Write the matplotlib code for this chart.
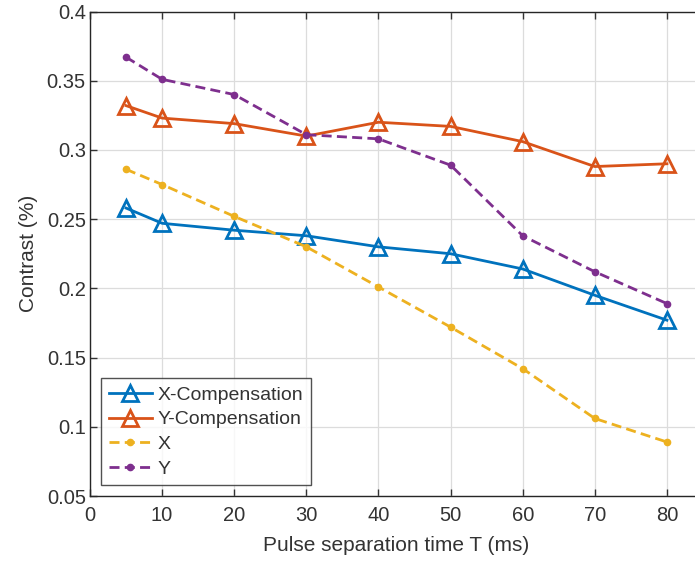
import matplotlib
matplotlib.use("Agg")
import matplotlib.pyplot as plt

T = [5, 10, 20, 30, 40, 50, 60, 70, 80]
x_comp = [0.258, 0.247, 0.242, 0.238, 0.230, 0.225, 0.214, 0.195, 0.177]
y_comp = [0.332, 0.323, 0.319, 0.310, 0.320, 0.317, 0.306, 0.288, 0.290]
x_raw = [0.286, 0.275, 0.252, 0.230, 0.201, 0.172, 0.142, 0.106, 0.089]
y_raw = [0.367, 0.351, 0.340, 0.311, 0.308, 0.289, 0.238, 0.212, 0.189]

x_ticks = [0, 10, 20, 30, 40, 50, 60, 70, 80]
y_ticks = [0.05, 0.1, 0.15, 0.2, 0.25, 0.3, 0.35, 0.4]
y_tick_labels = ["0.05", "0.1", "0.15", "0.2", "0.25", "0.3", "0.35", "0.4"]

BLUE = "#0072BD"
ORANGE = "#D95319"
YELLOW = "#EDB120"
PURPLE = "#7E2F8E"
TXT = "#333333"

plt.rcParams["font.family"] = ["Liberation Sans", "DejaVu Sans"]

fig = plt.figure(figsize=(6.95, 5.63), dpi=100)
# right edge of the axes runs past the picture, as in the cropped original
ax = fig.add_axes([90 / 695, 1 - 496 / 563, 613 / 695, (496 - 11.5) / 563])

ax.plot(T, x_comp, "-^", color=BLUE, lw=2, ms=11, mfc="none", mew=2,
        label="X-Compensation")
ax.plot(T, y_comp, "-^", color=ORANGE, lw=2, ms=11, mfc="none", mew=2,
        label="Y-Compensation")
ax.plot(T, x_raw, "--o", color=YELLOW, lw=2, ms=4.5, dashes=(3.6, 1.9),
        label="X")
ax.plot(T, y_raw, "--o", color=PURPLE, lw=2, ms=4.5, dashes=(3.6, 1.9),
        label="Y")

ax.set_xlim(0, 85)
ax.set_ylim(0.05, 0.4)
ax.set_xticks(x_ticks)
ax.set_yticks(y_ticks)
ax.set_yticklabels(y_tick_labels)
ax.grid(True, color="#dcdcdc", lw=0.9)
ax.set_axisbelow(True)

ax.tick_params(direction="in", length=5, width=1, colors=TXT,
               labelsize=14.5, top=True, right=True)
ax.tick_params(axis="x", pad=7)
ax.tick_params(axis="y", pad=3)
for s in ax.spines.values():
    s.set_color("#262626")
    s.set_linewidth(1)

ax.set_xlabel("Pulse separation time T (ms)", fontsize=15, color=TXT, labelpad=8)
ax.set_ylabel("Contrast (%)", fontsize=15, color=TXT, labelpad=6)

leg = ax.legend(loc="lower left", bbox_to_anchor=(0.018, 0.022), fontsize=14,
                frameon=True, fancybox=False, borderpad=0.4, labelspacing=0.36,
                handlelength=2.2, handletextpad=0.3, borderaxespad=0)
leg.get_frame().set_edgecolor("#262626")
leg.get_frame().set_linewidth(1)
for t in leg.get_texts():
    t.set_color(TXT)

fig.savefig("out.png", dpi=100)
